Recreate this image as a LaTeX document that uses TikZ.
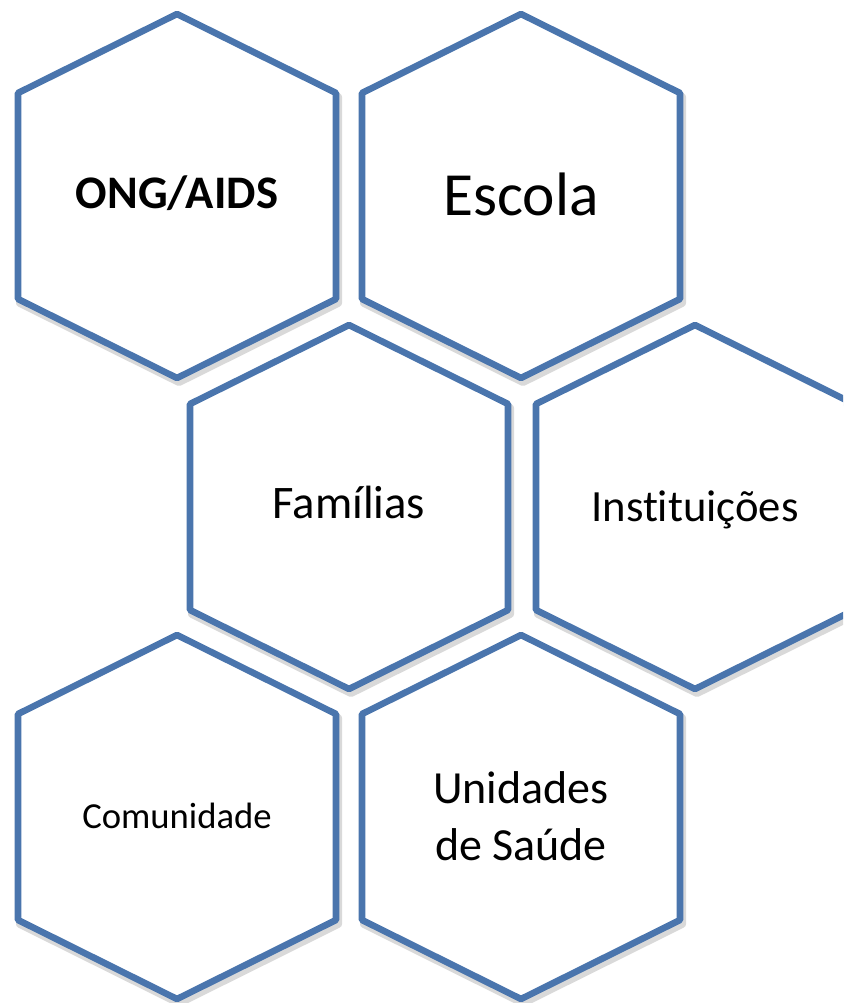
\documentclass[tikz,border=0pt]{standalone}
\usepackage{fontspec}
\setmainfont{Carlito}[Ligatures=NoCommon]
\usetikzlibrary{calc}
\definecolor{hexblue}{HTML}{4A75AD}

\begin{document}
\begin{tikzpicture}[x=0.75pt,y=-0.75pt,
		hexline/.style={draw=hexblue,line width=4.9pt,line join=round,fill=white},
		hexshadow/.style={draw=black,opacity=0.15,line width=6pt,line join=round}
	]

	\useasboundingbox (0,0) rectangle (843,1003);
	\clip (0,0) rectangle (843,1003);

	\foreach \n/\x/\y in {ong/177/196,esc/521/196,fam/349/507,ins/695/507,com/177/817,uni/521/817} {
			\coordinate (c\n) at (\x,\y);
		}

	% shadows first, then the cells
	\foreach \n in {ong,esc,fam,ins,com,uni} {
			\draw[hexshadow] ($(c\n)+(2,4)$) ++(0,-182) -- ++(159,79) -- ++(0,206) -- ++(-159,79) -- ++(-159,-79) -- ++(0,-206) -- cycle;
		}
	\foreach \n in {ong,esc,fam,ins,com,uni} {
			\draw[hexline] (c\n) ++(0,-182) -- ++(159,79) -- ++(0,206) -- ++(-159,79) -- ++(-159,-79) -- ++(0,-206) -- cycle;
		}

	\node[anchor=base,font=\bfseries\fontsize{35}{42}\selectfont] (ong) at (177,208) {ONG/AIDS};
	\node[anchor=base,font=\fontsize{46}{55}\selectfont] (esc) at (521,215) {Escola};
	\node[anchor=base,font=\fontsize{35}{42}\selectfont] (fam) at (349,518) {Famílias};
	\node[anchor=base,font=\fontsize{33.5}{40}\selectfont] (ins) at (695,521) {Instituições};
	\node[anchor=base,font=\fontsize{27.5}{33}\selectfont] (com) at (177,828) {Comunidade};
	\node[anchor=base,align=center,font=\fontsize{34.5}{42.75}\selectfont] (uni) at (521,860) {Unidades\\de Saúde};

\end{tikzpicture}
\end{document}
